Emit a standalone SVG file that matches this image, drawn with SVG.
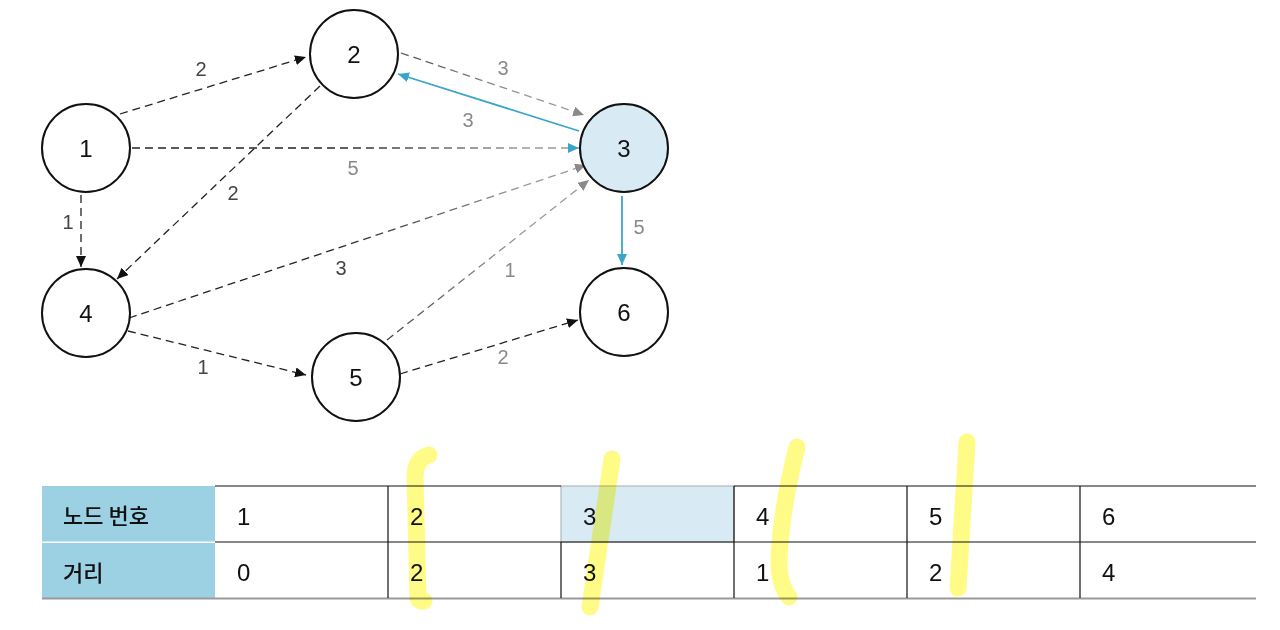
<svg xmlns="http://www.w3.org/2000/svg" width="1280" height="630" viewBox="0 0 1280 630">
<style>
.node circle{fill:#fff;stroke:#111;stroke-width:2}
.node text{font-family:"Liberation Sans",Arial,sans-serif;font-size:24px;fill:#111;text-anchor:middle}
.e{fill:none;stroke-width:1.3;stroke-dasharray:8 5}
.k{stroke:#222}
.g{stroke:url(#fade)}
.b{fill:none;stroke:#3ba5c9;stroke-width:1.8}
.lbl{font-family:"Liberation Sans",Arial,sans-serif;font-size:20px;fill:#444;text-anchor:middle}
.lg{fill:#8a8a8a}
.cell{font-family:"Liberation Sans",Arial,sans-serif;font-size:24px;fill:#111}
.hdr{font-family:"Noto Sans CJK KR","Noto Sans",sans-serif;font-size:22px;font-weight:500;fill:#111}
.hl{fill:none;stroke:#fffb7a;stroke-opacity:0.9;stroke-width:17;stroke-linecap:round;stroke-linejoin:round;mix-blend-mode:multiply}
</style>
<defs>
<linearGradient id="fade" gradientUnits="userSpaceOnUse" x1="330" y1="0" x2="520" y2="0">
<stop offset="0" stop-color="#222"/><stop offset="1" stop-color="#999"/>
</linearGradient>
<marker id="ak" markerUnits="userSpaceOnUse" markerWidth="12" markerHeight="10" refX="11" refY="5" orient="auto"><path d="M0,0 L11,5 L0,10 Z" fill="#111"/></marker>
<marker id="ag" markerUnits="userSpaceOnUse" markerWidth="12" markerHeight="10" refX="11" refY="5" orient="auto"><path d="M0,0 L11,5 L0,10 Z" fill="#8a8a8a"/></marker>
<marker id="ab" markerUnits="userSpaceOnUse" markerWidth="12" markerHeight="10" refX="11" refY="5" orient="auto"><path d="M0,0 L11,5 L0,10 Z" fill="#3ba5c9"/></marker>
</defs>
<rect width="1280" height="630" fill="#fff"/>
<g id="connectors">
<line class="e k" x1="120" y1="114" x2="306" y2="57" marker-end="url(#ak)"/>
<line class="e g" x1="132" y1="148" x2="579" y2="148" marker-end="url(#ab)"/>
<line class="e k" x1="81" y1="195" x2="81" y2="267" marker-end="url(#ak)"/>
<line class="e g" x1="401" y1="53" x2="584" y2="115" marker-end="url(#ag)"/>
<line class="b" x1="579" y1="131" x2="398" y2="74" marker-end="url(#ab)"/>
<line class="e k" x1="320" y1="86" x2="117" y2="279" marker-end="url(#ak)"/>
<line class="e g" x1="129" y1="318" x2="586" y2="165" marker-end="url(#ag)"/>
<line class="e g" x1="387" y1="340" x2="589" y2="180" marker-end="url(#ag)"/>
<line class="b" x1="622" y1="196" x2="622" y2="265" marker-end="url(#ab)"/>
<line class="e k" x1="128" y1="331" x2="306" y2="375" marker-end="url(#ak)"/>
<line class="e k" x1="400" y1="374" x2="578" y2="320" marker-end="url(#ak)"/>
<text class="lbl" x="201" y="76">2</text>
<text class="lbl lg" x="353" y="175">5</text>
<text class="lbl" x="68" y="229">1</text>
<text class="lbl lg" x="503" y="75">3</text>
<text class="lbl lg" x="468" y="127">3</text>
<text class="lbl" x="233" y="200">2</text>
<text class="lbl" x="341" y="275">3</text>
<text class="lbl lg" x="510" y="277">1</text>
<text class="lbl lg" x="639" y="234">5</text>
<text class="lbl" x="203" y="374">1</text>
<text class="lbl lg" x="503" y="364">2</text>
</g>
<g id="node1" class="node"><circle cx="86" cy="148" r="44"/><text x="86" y="157">1</text></g>
<g id="node2" class="node"><circle cx="354" cy="54" r="44"/><text x="354" y="63">2</text></g>
<g id="node3" class="node"><circle cx="624" cy="148" r="44" style="fill:#d8ebf4"/><text x="624" y="157">3</text></g>
<g id="node4" class="node"><circle cx="86" cy="313" r="44"/><text x="86" y="322">4</text></g>
<g id="node5" class="node"><circle cx="356" cy="377" r="44"/><text x="356" y="386">5</text></g>
<g id="node6" class="node"><circle cx="624" cy="312" r="44"/><text x="624" y="321">6</text></g>
<g id="table">
<rect x="42" y="486" width="173" height="55.5" fill="#9bd1e3"/>
<rect x="42" y="543" width="173" height="55" fill="#9bd1e3"/>
<rect x="561" y="486" width="173" height="56" fill="#d8ebf4" stroke="#aaa" stroke-width="1"/>
<line x1="215" y1="486" x2="561" y2="486" stroke="#111" stroke-width="1.2"/>
<line x1="734" y1="486" x2="1256" y2="486" stroke="#111" stroke-width="1.2"/>
<line x1="215" y1="542" x2="1256" y2="542" stroke="#111" stroke-width="1.2"/>
<line x1="42" y1="598.5" x2="1256" y2="598.5" stroke="#999" stroke-width="2"/>
<g stroke="#111" stroke-width="1.2">
<line x1="388" y1="486" x2="388" y2="598"/>
<line x1="561" y1="542" x2="561" y2="598"/>
<line x1="734" y1="486" x2="734" y2="598"/>
<line x1="907" y1="486" x2="907" y2="598"/>
<line x1="1080" y1="486" x2="1080" y2="598"/>
</g>
<text class="hdr" x="63" y="524">노드 번호</text>
<text class="hdr" x="63" y="581">거리</text>
<text class="cell" x="237" y="525">1</text>
<text class="cell" x="410" y="525">2</text>
<text class="cell" x="583" y="525">3</text>
<text class="cell" x="756" y="525">4</text>
<text class="cell" x="929" y="525">5</text>
<text class="cell" x="1102" y="525">6</text>
<text class="cell" x="237" y="581">0</text>
<text class="cell" x="410" y="581">2</text>
<text class="cell" x="583" y="581">3</text>
<text class="cell" x="756" y="581">1</text>
<text class="cell" x="929" y="581">2</text>
<text class="cell" x="1102" y="581">4</text>
</g>
<g id="highlights">
<path class="hl" d="M429,455 Q416,458 415,476 L418,598 Q419,602 424,601"/>
<path class="hl" d="M612,459 L590,607"/>
<path class="hl" d="M797,447 Q781,510 779,560 Q779,585 789,597"/>
<path class="hl" d="M967,442 L958,588"/>
</g>
</svg>
